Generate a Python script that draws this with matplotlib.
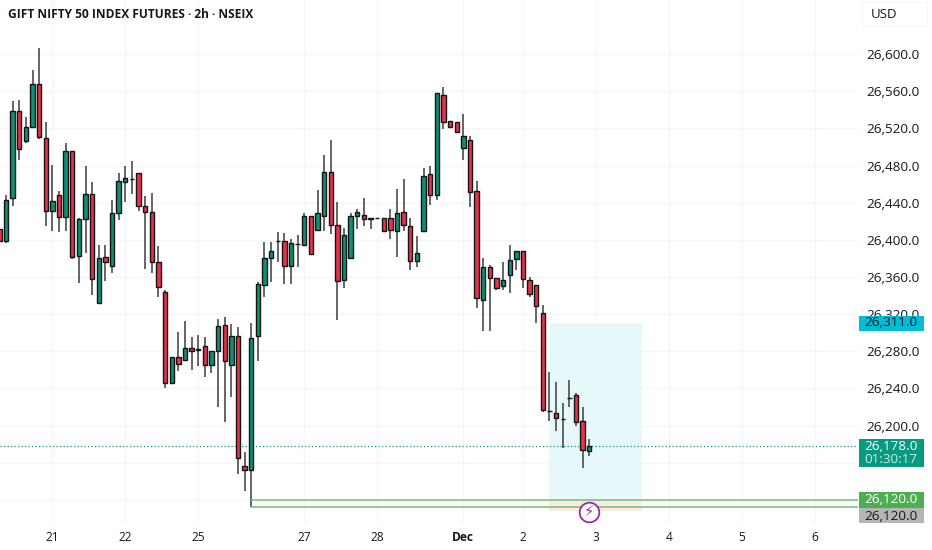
import matplotlib
matplotlib.use("Agg")
import matplotlib.pyplot as plt
from matplotlib.patches import Rectangle
from matplotlib.transforms import blended_transform_factory

plt.rcParams['font.family'] = ['Open Sans', 'DejaVu Sans']

opens = [26412,26399,26445,26539,26506,26521,26568,26510,26431,26448,26425,26496,26383,26422,26449,26332,26382,26372,26429,26462,
         26466,26472,26436,26430,26376,26344,26246,26274,26271,26284,26281,26286,26265,26280,26308,26265,26296,26157,26152,26296,
         26351,26381,26399,26399,26372,26396,26395,26426,26411,26426,26473,26416,26357,26381,26426,26427,26422,26424,26424,26424,
         26409,26430,26415,26377,26409,26471,26448,26556,26528,26527,26499,26508,26453,26335,26371,26359,26350,26362,26379,26388,
         26357,26351,26321,26216,26214,26207,26230,26233,26205,26173]
highs = [26416,26448,26549,26551,26532,26583,26606,26527,26481,26453,26504,26496,26424,26479,26462,26394,26394,26443,26472,26479,
         26485,26472,26447,26450,26393,26346,26274,26301,26313,26295,26298,26295,26280,26315,26317,26309,26306,26172,26311,26355,
         26398,26398,26408,26407,26401,26405,26429,26426,26454,26491,26507,26441,26413,26429,26433,26445,26424,26424,26424,26433,
         26455,26466,26423,26404,26477,26479,26558,26565,26528,26527,26535,26512,26463,26381,26373,26359,26376,26394,26388,26388,
         26360,26351,26330,26258,26247,26224,26249,26235,26220,26186]
lows = [26397,26397,26436,26486,26504,26521,26509,26415,26409,26408,26409,26379,26354,26386,26341,26332,26356,26364,26421,26441,
        26449,26431,26369,26364,26338,26241,26246,26259,26270,26260,26264,26252,26257,26220,26204,26231,26148,26130,26112,26270,
        26338,26355,26376,26353,26353,26371,26395,26385,26409,26410,26406,26314,26348,26381,26412,26415,26412,26424,26409,26401,
        26382,26410,26368,26371,26408,26438,26443,26519,26521,26516,26486,26435,26327,26302,26302,26346,26346,26343,26368,26348,
        26339,26311,26215,26205,26194,26176,26220,26200,26154,26167]
closes = [26399,26443,26539,26498,26521,26568,26511,26431,26442,26425,26496,26382,26422,26449,26358,26381,26376,26429,26463,26467,
          26465,26436,26430,26376,26349,26246,26274,26266,26284,26280,26283,26265,26280,26307,26270,26296,26165,26152,26294,26352,
          26381,26388,26399,26372,26397,26396,26426,26385,26429,26473,26416,26356,26405,26426,26430,26422,26424,26424,26409,26411,
          26429,26416,26377,26386,26469,26448,26558,26527,26521,26516,26512,26452,26337,26371,26359,26348,26357,26378,26388,26358,
          26342,26329,26217,26216,26208,26207,26230,26204,26174,26178]

date_labels = ['21', '22', '25', '27', '28', 'Dec', '2', '3', '4', '5', '6']
date_bars = [8, 19, 30, 46, 57, 70, 79, 90, 101, 112, 123]
price_ticks = [26200, 26240, 26280, 26320, 26360, 26400, 26440, 26480, 26520, 26560, 26600]
grid_prices = [26120, 26160] + price_ticks

last_price = 26178
target_price = 26311
entry_price = 26120
stop_price = 26108
lower_line = 26112
trade_start, trade_end = 83, 97
line_start = 38

GREEN, RED = '#0f8f75', '#e5324d'
INK = '#131722'

fig = plt.figure(figsize=(9.32, 5.5), dpi=100, facecolor='white')
ax = fig.add_axes([0, 27/550, 858/932, 523/550])
ax.set_xlim(0.095, 129.55)
ax.set_ylim(26095.2, 26658.2)
for s in ax.spines.values():
    s.set_visible(False)

ax.set_xticks(date_bars, date_labels)
for lab, t in zip(ax.get_xticklabels(), date_labels):
    lab.set_color(INK)
    lab.set_fontsize(8.6)
    if t == 'Dec':
        lab.set_fontweight('bold')
ax.tick_params(axis='x', length=0, pad=6)
ax.yaxis.tick_right()
ax.set_yticks(price_ticks, [f'{p:,.1f}' for p in price_ticks])
ax.tick_params(axis='y', length=0, pad=6, labelsize=9.7, labelcolor=INK)

ax.vlines(date_bars, 26095.2, 26658.2, color='#f4f5f7', lw=0.9, zorder=0)
ax.hlines(grid_prices, 0, 130, color='#f4f5f7', lw=0.9, zorder=0)

ax.add_patch(Rectangle((trade_start, entry_price), trade_end - trade_start, target_price - entry_price,
                       fc='#e6f8fa', ec='none', zorder=1))
ax.add_patch(Rectangle((trade_start, stop_price), trade_end - trade_start, entry_price - stop_price,
                       fc='#fbe9e5', ec='none', zorder=1))

for i, (o, h, l, c) in enumerate(zip(opens, highs, lows, closes)):
    col = GREEN if c > o else RED
    ax.vlines(i, l, h, color='#444444', lw=1.15, zorder=2)
    ax.bar(i, abs(c - o), bottom=min(o, c), width=0.66, color=col,
           edgecolor='#141414', linewidth=1.0, zorder=3)

ax.axhline(last_price, color='#089981', lw=0.9, ls=(0, (1, 1.8)), zorder=2)
ax.hlines([entry_price, lower_line], line_start, 130, color='#7cc47f', lw=1.2, zorder=4)

ax.scatter([89], [stop_price - 0.5], s=200, fc='white', ec='#9c27b0', lw=1.3, zorder=5, clip_on=False)
ax.text(89, stop_price - 0.5, '\u26a1', color='#9c27b0', fontsize=10.5, ha='center', va='center',
        family='DejaVu Sans', zorder=6)

trans = blended_transform_factory(ax.transAxes, ax.transData)
x0, x1 = 858.7 / 858, 924 / 858
xc = (x0 + x1) / 2


def box(p_top, p_bottom, color):
    ax.add_patch(Rectangle((x0, p_bottom), x1 - x0, p_top - p_bottom, transform=trans, fc=color,
                           ec='none', clip_on=False, zorder=10))


def label(p, text, color):
    ax.text(xc, p, text, transform=trans, color=color, fontsize=9.7, ha='center', va='center',
            clip_on=False, zorder=11)


box(26318.5, 26302, '#00bcd4')
label(target_price, f'{target_price:,.1f}', INK)
box(26186, 26155, '#089981')
label(last_price, f'{last_price:,.1f}', 'white')
label(26164, '01:30:17', '#cdebe5')
box(26129, 26111, '#4caf50')
label(entry_price, f'{entry_price:,.1f}', 'white')
box(26111, 26095, '#b5b5b5')
label(26102.5, f'{entry_price:,.1f}', INK)

fig.text(8/932, 1 - 15/550, 'GIFT NIFTY 50 INDEX FUTURES \u00b7 2h \u00b7 NSEIX', color=INK,
         fontsize=8.6, fontweight='bold', ha='left', va='center')
fig.patches.append(Rectangle((862/932, 1 - 26/550), 65/932, 24/550, transform=fig.transFigure,
                             fc='white', ec='#f5f5f6', lw=0.8, figure=fig))
fig.text(884/932, 1 - 15/550, 'USD', color=INK, fontsize=9.5, ha='center', va='center')

fig.savefig('out.png', dpi=100)
